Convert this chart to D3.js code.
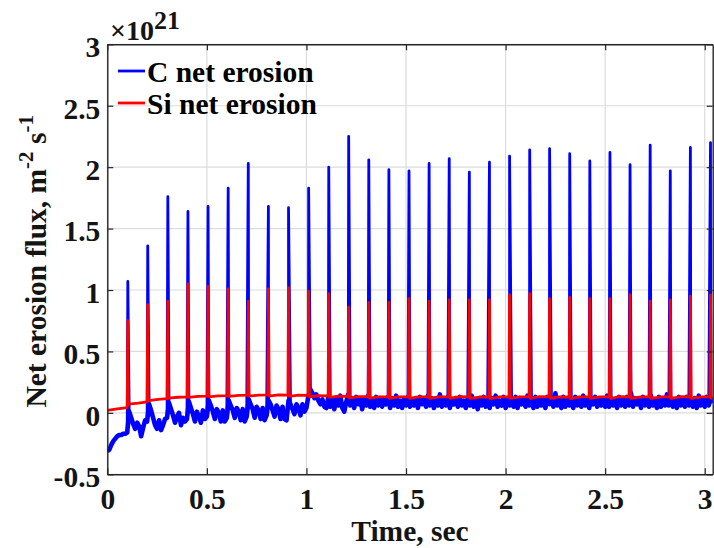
<!DOCTYPE html>
<html>
<head>
<meta charset="utf-8">
<script src="https://cdn.jsdelivr.net/npm/d3@7"></script>
<style>
  body { margin: 0; background: #ffffff; }
  svg { display: block; font-family: "Liberation Serif", "Times New Roman", serif; font-weight: bold; }
</style>
</head>
<body>
<svg id="chart" width="714" height="548"></svg>
<script>
// Axis ticks (flux in units of 1e21 m^-2 s^-1, time in seconds)
const xTicks = [0, 0.5, 1, 1.5, 2, 2.5, 3];
const yTicks = [-0.5, 0, 0.5, 1, 1.5, 2, 2.5, 3];
const exponentLabel = "21";

// Transient (ELM-like) pulses: times and peak fluxes
const spikeTimes = [0.103, 0.203, 0.304, 0.405, 0.506, 0.607, 0.708, 0.809, 0.910, 1.011,
                    1.112, 1.212, 1.313, 1.414, 1.515, 1.616, 1.717, 1.818, 1.919, 2.020,
                    2.121, 2.221, 2.322, 2.423, 2.524, 2.625, 2.726, 2.827, 2.928, 3.029];
const cPeaks  = [1.07, 1.36, 1.76, 1.64, 1.68, 1.83, 2.03, 1.68, 1.67, 1.83,
                 2.00, 2.25, 2.06, 1.98, 1.97, 2.03, 2.07, 1.96, 2.04, 2.09,
                 2.14, 2.15, 2.11, 2.05, 2.12, 2.02, 2.18, 1.97, 2.16, 2.20];
const siPeaks = [0.75, 0.88, 0.91, 1.05, 1.03, 1.01, 0.91, 1.01, 1.02, 0.99,
                 0.97, 0.86, 0.90, 0.90, 0.93, 0.91, 0.92, 0.92, 0.92, 0.96,
                 0.97, 0.93, 0.94, 0.93, 0.93, 0.96, 0.91, 0.92, 0.95, 0.96];

// C net erosion between pulses, sampled every cStep seconds from t = 0
const cStep = 0.01;
const cBase = [
  -0.31, -0.30, -0.26, -0.23, -0.21, -0.19, -0.18, -0.18, -0.17, -0.17, -0.16,
  0.01, -0.04, -0.09, -0.13, -0.08, -0.11, -0.19, -0.12, -0.06, -0.07,
  0.07, 0.02, -0.04, -0.10, -0.13, -0.06, -0.14, -0.10, -0.05, -0.04,
  0.08, 0.03, -0.02, -0.08, -0.03, 0.00, -0.10, -0.04, -0.07, -0.05,
  0.09, 0.04, -0.01, -0.07, 0.01, -0.03, -0.08, 0.02, -0.05, -0.03,
  0.10, 0.06, 0.01, -0.05, 0.03, 0.00, -0.07, 0.02, -0.07, -0.04,
  0.10, 0.06, 0.02, -0.04, 0.04, 0.01, -0.06, 0.03, -0.07, -0.03,
  0.11, 0.07, 0.03, -0.04, 0.05, 0.02, -0.05, 0.04, -0.06, -0.02,
  0.10, 0.07, 0.02, -0.03, 0.06, 0.03, -0.05, 0.05, -0.05, -0.06,
  0.10, 0.07, 0.03, -0.01, 0.07, 0.04, -0.02, 0.07, 0.01, 0.04,
  0.14, 0.19, 0.16, 0.12, 0.15, 0.10, 0.07, 0.11, 0.05, 0.04,
  0.13, 0.05, 0.11, 0.03, 0.12, 0.06, 0.14, 0.04, 0.01, 0.09,
  0.15, 0.06, 0.12, 0.04, 0.13, 0.07, 0.11, 0.03, 0.12, 0.06,
  0.14, 0.05, 0.10, 0.04, 0.13, 0.06, 0.12, 0.05, 0.11, 0.07,
  0.13, 0.04, 0.12, 0.06, 0.14, 0.05, 0.10, 0.04, 0.12, 0.06,
  0.13, 0.05, 0.11, 0.06, 0.12, 0.04, 0.13, 0.07, 0.11, 0.05,
  0.14, 0.06, 0.12, 0.04, 0.11, 0.06, 0.15, 0.05, 0.12, 0.06,
  0.13, 0.04, 0.11, 0.07, 0.12, 0.05, 0.13, 0.06, 0.10, 0.04,
  0.12, 0.06, 0.14, 0.05, 0.11, 0.03, 0.12, 0.06, 0.13, 0.05,
  0.11, 0.04, 0.12, 0.07, 0.14, 0.05, 0.10, 0.06, 0.13, 0.04,
  0.12, 0.06, 0.11, 0.05, 0.13, 0.04, 0.12, 0.07, 0.11, 0.05,
  0.14, 0.06, 0.12, 0.04, 0.13, 0.05, 0.11, 0.06, 0.12, 0.04,
  0.13, 0.07, 0.12, 0.05, 0.16, 0.06, 0.11, 0.04, 0.13, 0.05,
  0.12, 0.06, 0.11, 0.04, 0.13, 0.06, 0.12, 0.05, 0.14, 0.06,
  0.11, 0.04, 0.12, 0.07, 0.13, 0.05, 0.11, 0.06, 0.12, 0.05,
  0.14, 0.05, 0.12, 0.06, 0.11, 0.04, 0.13, 0.06, 0.12, 0.05,
  0.13, 0.06, 0.16, 0.05, 0.12, 0.07, 0.11, 0.04, 0.13, 0.06,
  0.12, 0.05, 0.14, 0.06, 0.11, 0.04, 0.13, 0.05, 0.12, 0.06,
  0.15, 0.06, 0.12, 0.05, 0.11, 0.04, 0.13, 0.06, 0.12, 0.05,
  0.13, 0.06, 0.11, 0.05, 0.12, 0.04, 0.14, 0.06, 0.12, 0.05,
  0.13, 0.06, 0.12, 0.08
];

// Si net erosion between pulses (sample times in seconds, values)
const siTimes = [
  0.000, 0.050, 0.100,
  0.106, 0.155, 0.200,  0.206, 0.255, 0.301,  0.307, 0.355, 0.402,
  0.408, 0.455, 0.503,  0.510, 0.555, 0.604,  0.611, 0.660, 0.705,
  0.712, 0.760, 0.806,  0.813, 0.860, 0.907,  0.914, 0.960, 1.008,
  1.015, 1.060, 1.109,  1.116, 1.160, 1.209,  1.216, 1.260, 1.310,
  1.317, 1.360, 1.411,  1.418, 1.460, 1.512,  1.519, 1.560, 1.613,
  1.620, 1.660, 1.714,  1.721, 1.770, 1.815,  1.822, 1.870, 1.916,
  1.923, 1.970, 2.017,  2.024, 2.070, 2.118,  2.125, 2.170, 2.218,
  2.225, 2.270, 2.319,  2.326, 2.370, 2.420,  2.427, 2.470, 2.521,
  2.528, 2.570, 2.622,  2.629, 2.680, 2.723,  2.730, 2.780, 2.824,
  2.831, 2.880, 2.925,  2.932, 2.980, 3.026,
  3.033, 3.040
];
const siBase = [
  0.021, 0.032, 0.043,
  0.072, 0.080, 0.090,  0.100, 0.110, 0.116,  0.120, 0.127, 0.131,
  0.126, 0.134, 0.136,  0.131, 0.139, 0.141,  0.134, 0.143, 0.144,
  0.136, 0.145, 0.146,  0.137, 0.146, 0.145,  0.135, 0.145, 0.143,
  0.130, 0.140, 0.139,  0.127, 0.137, 0.135,  0.122, 0.133, 0.132,
  0.120, 0.131, 0.131,  0.119, 0.130, 0.132,  0.118, 0.131, 0.130,
  0.117, 0.130, 0.131,  0.119, 0.132, 0.130,  0.118, 0.129, 0.131,
  0.116, 0.130, 0.132,  0.118, 0.131, 0.130,  0.117, 0.132, 0.131,
  0.119, 0.130, 0.129,  0.116, 0.131, 0.132,  0.118, 0.130, 0.131,
  0.117, 0.132, 0.130,  0.119, 0.131, 0.132,  0.118, 0.130, 0.131,
  0.117, 0.132, 0.130,  0.118, 0.131, 0.131,
  0.119, 0.130
];

const seriesNames  = ["C net erosion", "Si net erosion"];
const seriesColors = ["#0000ff", "#ff0000"];

// ---- layout ----
const svg = d3.select("#chart");
const box = { left: 107.3, right: 712.7, top: 44.3, bottom: 474.3 };
const x = d3.scaleLinear().domain([0, 3.04]).range([box.left, box.right]);
const y = d3.scaleLinear().domain([-0.5, 3]).range([box.bottom, box.top]);
const axisColor = "#262626";
const textColor = "#141414";
const fontSize = 29.5;
const lineWidth = 2.8;

// grid
const grid = svg.append("g").attr("stroke", "#dcdcdc").attr("stroke-width", 1.2);
grid.selectAll("line.gx").data(xTicks).join("line")
  .attr("x1", d => x(d)).attr("x2", d => x(d))
  .attr("y1", box.top).attr("y2", box.bottom);
grid.selectAll("line.gy").data(yTicks).join("line")
  .attr("x1", box.left).attr("x2", box.right)
  .attr("y1", d => y(d)).attr("y2", d => y(d));

// series: baseline samples merged with pulse peaks, ordered in time
const cBasePoints = cBase.map((v, i) => ({ t: i * cStep, v }));
const cPoints = cBasePoints
  .concat(spikeTimes.map((t, k) => ({ t, v: cPeaks[k] })))
  .sort((a, b) => a.t - b.t);
const siPoints = siBase.map((v, i) => ({ t: siTimes[i], v }))
  .concat(spikeTimes.map((t, k) => ({ t, v: siPeaks[k] })))
  .sort((a, b) => a.t - b.t);

svg.append("clipPath").attr("id", "plotClip")
  .append("rect").attr("x", box.left).attr("y", box.top)
  .attr("width", box.right - box.left).attr("height", box.bottom - box.top);

const line = d3.line().x(d => x(d.t)).y(d => y(d.v));
const series = svg.append("g").attr("clip-path", "url(#plotClip)");

// the noisy C signal between pulses reads as a heavier trace
series.append("path").datum(cBasePoints)
  .attr("d", line).attr("fill", "none")
  .attr("stroke", seriesColors[0]).attr("stroke-width", 4.6)
  .attr("stroke-linejoin", "round");
series.append("path").datum(cPoints)
  .attr("d", line).attr("fill", "none")
  .attr("stroke", seriesColors[0]).attr("stroke-width", lineWidth)
  .attr("stroke-linejoin", "round");
series.append("path").datum(siPoints)
  .attr("d", line).attr("fill", "none")
  .attr("stroke", seriesColors[1]).attr("stroke-width", lineWidth)
  .attr("stroke-linejoin", "round");

// axes (box with inward ticks on all sides)
function styleAxis(g) {
  g.select(".domain").attr("stroke", axisColor).attr("stroke-width", 1.4);
  g.selectAll(".tick line").attr("stroke", axisColor).attr("stroke-width", 1.2);
  g.selectAll("text").attr("fill", textColor).attr("font-size", fontSize)
    .attr("font-family", "Liberation Serif, Times New Roman, serif").attr("font-weight", "bold");
}
const fmt = d => String(d);
svg.append("g").attr("transform", `translate(0,${box.bottom})`)
  .call(d3.axisBottom(x).tickValues(xTicks).tickFormat(fmt).tickSize(-6).tickSizeOuter(0).tickPadding(14))
  .call(styleAxis);
svg.append("g").attr("transform", `translate(${box.left},0)`)
  .call(d3.axisLeft(y).tickValues(yTicks).tickFormat(fmt).tickSize(-6).tickSizeOuter(0).tickPadding(7))
  .call(styleAxis)
  .call(g => g.selectAll("text").attr("dy", "0.42em"));
svg.append("g").attr("transform", `translate(0,${box.top})`)
  .call(d3.axisTop(x).tickValues(xTicks).tickFormat("").tickSize(-6).tickSizeOuter(0))
  .call(styleAxis);
svg.append("g").attr("transform", `translate(${box.right},0)`)
  .call(d3.axisRight(y).tickValues(yTicks).tickFormat("").tickSize(-6).tickSizeOuter(0))
  .call(styleAxis);

// exponent multiplier
const expo = svg.append("text").attr("x", 110).attr("y", 40)
  .attr("fill", textColor).attr("font-size", 28);
expo.append("tspan").text("\u00d710");
expo.append("tspan").attr("dy", -11).attr("font-size", 26).text(exponentLabel);

// axis titles
svg.append("text").attr("x", (box.left + box.right) / 2).attr("y", 541)
  .attr("text-anchor", "middle").attr("font-size", fontSize).attr("fill", textColor)
  .text("Time, sec");

const yTitle = svg.append("text")
  .attr("transform", `translate(46,${(box.top + box.bottom) / 2 + 2}) rotate(-90)`)
  .attr("text-anchor", "middle").attr("font-size", fontSize).attr("fill", textColor);
yTitle.append("tspan").text("Net erosion flux, m");
yTitle.append("tspan").attr("dy", -13).attr("font-size", 21).text("-2");
yTitle.append("tspan").attr("dy", 13).text(" s");
yTitle.append("tspan").attr("dy", -13).attr("font-size", 21).text("-1");

// legend
const legend = svg.append("g");
seriesNames.forEach((name, i) => {
  const ly = 71 + i * 32;
  legend.append("line").attr("x1", 118).attr("x2", 145).attr("y1", ly).attr("y2", ly)
    .attr("stroke", seriesColors[i]).attr("stroke-width", lineWidth);
  legend.append("text").attr("x", 147).attr("y", ly + 10.5)
    .attr("font-size", fontSize).attr("fill", "#000").text(name);
});
</script>
</body>
</html>
